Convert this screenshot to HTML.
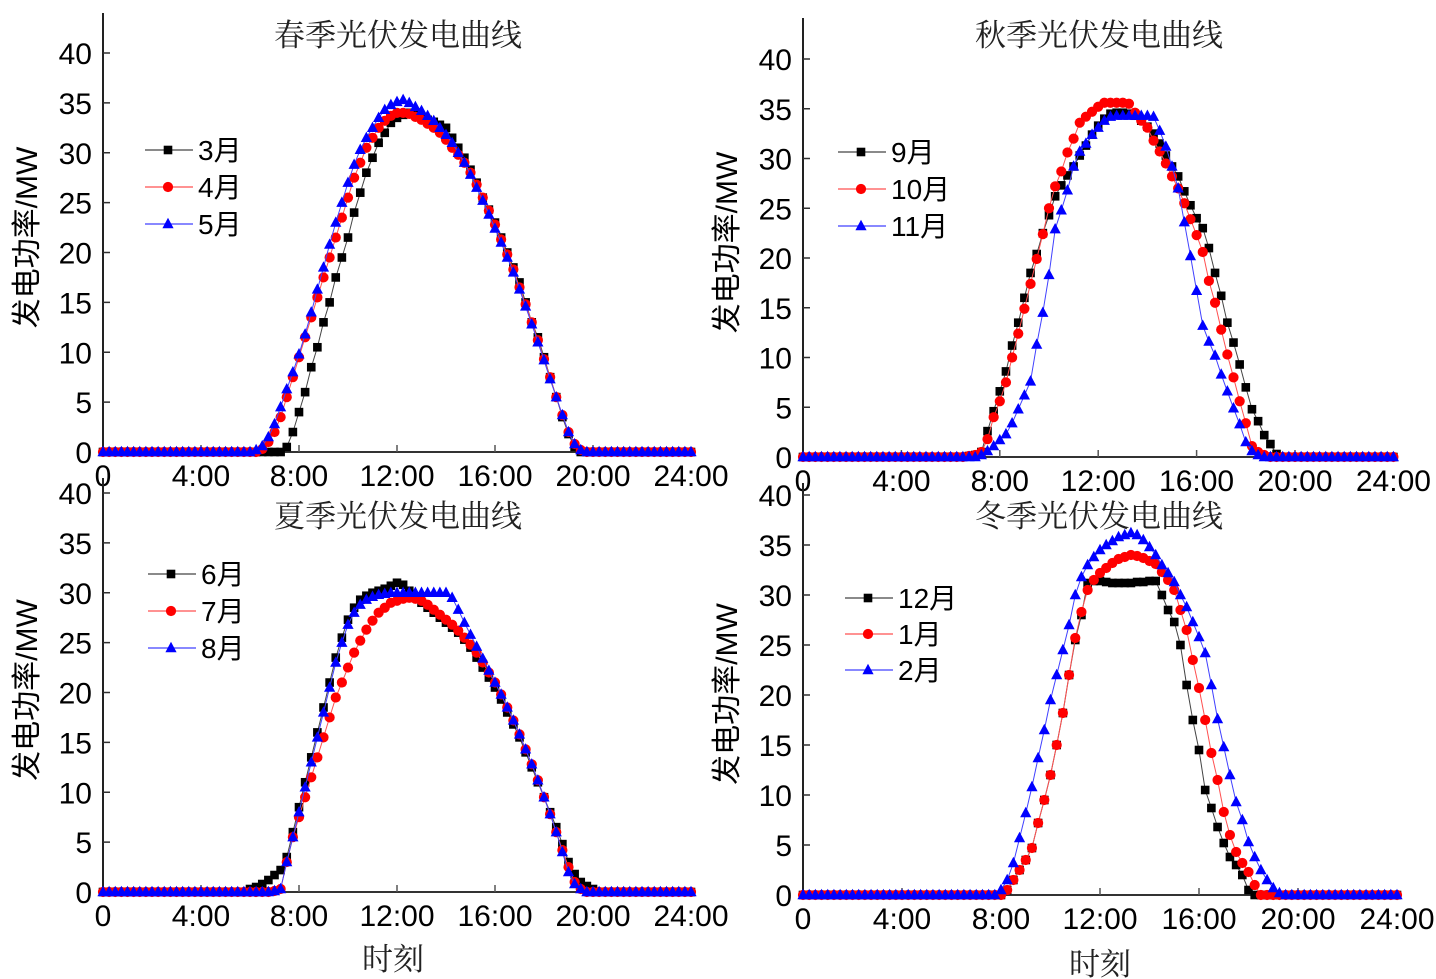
<!DOCTYPE html>
<html><head><meta charset="utf-8"><title>四季光伏发电曲线</title>
<style>
html,body{margin:0;padding:0;background:#fff;}
svg{display:block;}
.tick{font-family:"Liberation Sans","Noto Sans CJK SC",sans-serif;font-size:30px;fill:#000;}
.ttl{font-family:"Liberation Serif","Noto Serif CJK SC",serif;font-size:31px;fill:#222;}
.yt{font-family:"Liberation Sans","Noto Sans CJK SC",sans-serif;font-size:30px;fill:#000;}
.lg{font-family:"Liberation Sans","Noto Sans CJK SC",sans-serif;font-size:28px;fill:#000;}
</style></head>
<body>
<svg id="chart" width="1436" height="979" viewBox="0 0 1436 979" xmlns="http://www.w3.org/2000/svg"></svg>
<script>
// sampling: every 15 min from 6:00 to 20:00 (57 values); zero outside
const startHour = 6;
const stepHour = 0.25;
const xTickLabels = ["0","4:00","8:00","12:00","16:00","20:00","24:00"];
const xTickHours = [0,4,8,12,16,20,24];
const yTickValues = [0,5,10,15,20,25,30,35,40];

const springTitle = "春季光伏发电曲线";
const springNames = ["3月","4月","5月"];
const spring3 = [0,0,0,0,0,0,0.5,2,4,6,8.5,10.5,13,15,17.5,19.5,21.5,24,26,28,29.5,31,32,33,33.5,33.8,34,33.8,33.6,33.3,33.1,32.8,32.5,31.5,30.5,29.5,28.3,27,25.5,24.3,23,21.5,20,18.5,17,15,13,11.5,9.5,7.5,5.5,3.5,1.8,0.5,0,0,0];
const spring4 = [0,0,0.3,1,2,3.5,5.5,7.5,9.5,11.5,13.5,15.5,17.5,19.5,21.5,23.5,25.5,27.5,29,30.5,31.5,32.5,33.2,33.7,34,34,33.9,33.6,33.3,32.9,32.5,32,31.3,30.5,29.8,29,28,26.8,25.5,24.2,22.8,21.3,19.8,18.3,16.5,14.8,13,11.2,9.3,7.5,5.5,3.7,2,0.8,0.2,0,0];
const spring5 = [0,0.2,0.6,1.5,2.8,4.5,6.3,8,9.8,11.8,14,16.3,18.5,20.8,23,25,27,28.8,30.3,31.5,32.5,33.5,34.3,34.8,35.1,35.3,35,34.6,34.2,33.7,33.2,32.5,31.8,31,30,29,27.8,26.5,25.2,23.8,22.4,21,19.5,18,16.3,14.6,12.8,11,9.2,7.3,5.5,3.7,2,0.8,0.2,0,0];

const autumnTitle = "秋季光伏发电曲线";
const autumnNames = ["9月","10月","11月"];
const autumn9 = [0,0,0,0.1,0.2,0.5,2.6,4.6,6.6,8.6,11.2,13.5,16,18.5,20.4,22.5,24.3,26.2,27.3,28.3,29.2,30.3,31.3,32.4,33.3,34,34.5,34.6,34.6,34.5,34.3,33.8,33.2,32.5,31.5,30.3,29.2,28.2,26.7,25.3,24,23,21,18.5,16.2,13.5,11.5,9.3,7,4.8,3.6,2.2,1.3,0.3,0,0,0];
const autumn10 = [0,0,0,0.1,0.2,0.5,1.8,4,5.6,7.5,10,12.4,14.9,17.4,19.9,22.4,25,27.2,28.7,30.6,32,33.6,34.2,34.7,35.2,35.6,35.6,35.6,35.6,35.5,34.6,33.8,33.1,31.8,30.7,29.5,28.2,27,25.5,23.9,22.3,20.6,17.7,15.5,12.8,10.3,8,5.6,3.4,1.1,0.5,0.2,0,0,0,0,0];
const autumn11 = [0,0,0,0,0,0.2,0.6,1.1,1.7,2.3,3.4,4.8,6.2,7.6,11.3,14.5,18.3,22.9,24.8,26.8,29.2,30.7,31.5,32.4,33.1,33.8,34.2,34.3,34.3,34.3,34.3,34.3,34.3,34.2,32.8,31.2,29.2,27,23.6,20.2,16.7,13.2,11.6,10.2,8.3,6.6,4.9,3.3,1.5,0.6,0.2,0,0,0,0,0,0];

const summerTitle = "夏季光伏发电曲线";
const summerNames = ["6月","7月","8月"];
const summer6 = [0.3,0.5,0.8,1.2,1.7,2.2,3.5,6,8.5,11,13.5,16,18.5,21,23.5,25.5,27.3,28.5,29.3,29.7,30,30.2,30.4,30.7,31,30.8,30.2,29.5,29,28.5,28,27.5,27,26.5,26,25.3,24.5,23.5,22.5,21.5,20.5,19.3,18,16.8,15.5,14,12.5,11,9.5,8,6.5,4.8,3,1.8,1,0.6,0.3];
const summer7 = [0,0,0,0,0.1,0.3,3,5.5,7.5,9.5,11.5,13.5,15.5,17.5,19.5,21,22.5,24,25.2,26.3,27.2,28,28.5,29,29.2,29.4,29.5,29.4,29.2,28.8,28.3,27.8,27.3,26.8,26.2,25.5,24.8,24,23,22,21,19.8,18.5,17.2,15.8,14.3,12.8,11.2,9.5,7.8,6,4.2,2.5,1,0.3,0,0];
const summer8 = [0,0,0,0,0.1,0.3,3,5.5,8,10.5,13,15.5,18,20.5,23,25,26.8,28,28.8,29.3,29.6,29.8,29.9,30,30,30,30,30,30,30,30,30,30,29.5,28.3,27,25.8,24.6,23.4,22.2,21,19.8,18.5,17.2,15.8,14.3,12.8,11.2,9.5,7.8,6,4,2,0.8,0.3,0,0];

const winterTitle = "冬季光伏发电曲线";
const winterNames = ["12月","1月","2月"];
const winter12 = [0,0,0,0,0,0,0,0,0,0.5,1.5,2.5,3.5,4.7,7.2,9.5,12,15,18.2,22,25.5,28,31.2,31.4,31.4,31.3,31.2,31.2,31.2,31.2,31.3,31.3,31.4,31.4,30,28.5,27.3,25,21,17.5,14.5,10.5,8.7,6.8,5.2,3.8,3,2,0.5,0,0,0,0,0,0,0,0];
const winter1 = [0,0,0,0,0,0,0,0,0,0.5,1.5,2.5,3.5,4.7,7.2,9.5,12,15,18.2,22,25.7,28.3,30.5,31.5,32.2,32.7,33.2,33.6,33.8,34,33.9,33.7,33.4,33.1,32.3,31.5,30.5,28.5,26.5,23.5,20.7,17.5,14.2,11.5,8.3,6,4.3,3.2,2.3,1,0,0,0,0,0,0,0];
const winter2 = [0,0,0,0,0,0,0,0,0.5,1.5,3.2,5.7,8.2,10.8,13.7,16.5,19.5,22,24.5,27,30,31.8,33,33.8,34.5,35,35.4,35.8,36,36.2,36,35.5,34.8,34,33,32.2,31.3,30,28.8,27.3,25.8,24.2,21,17.6,14.8,12,9.3,7.5,5.3,3.8,2.5,1.5,0.7,0.2,0,0,0];

const NS = "http://www.w3.org/2000/svg";
const svg = document.getElementById("chart");
function mk(tag, attrs, parent){
  const e = document.createElementNS(NS, tag);
  for (const k in attrs) e.setAttribute(k, attrs[k]);
  (parent || svg).appendChild(e);
  return e;
}
const colors = ["#000000","#ff0000","#0000ff"];
const lineColors = ["#444444","#ff5050","#4040ff"];
const shapes = ["square","circle","triangle"];

function marker(g, shape, cx, cy, color, name){
  let m;
  if (shape === "square") m = mk("rect", {x:cx-4.3, y:cy-4.3, width:8.6, height:8.6, fill:color}, g);
  else if (shape === "circle") m = mk("circle", {cx:cx, cy:cy, r:5.1, fill:color}, g);
  else m = mk("polygon", {points:(cx)+","+(cy-6.2)+" "+(cx-5.6)+","+(cy+4.2)+" "+(cx+5.6)+","+(cy+4.2), fill:color}, g);
  
  
  return m;
}

function panel(cfg){
  const g = mk("g", {});
  
  
  const xs = h => cfg.x0 + h * cfg.pxh;
  const ys = v => cfg.y0 - v * cfg.pxv;
  const xEnd = xs(24);
  const t = mk("text", {x:cfg.titleX, y:cfg.titleY, "text-anchor":"middle", class:"ttl"}, g);
  t.textContent = cfg.title;
  
  
  const ya = mk("line", {x1:cfg.x0, y1:cfg.axisTop, x2:cfg.x0, y2:cfg.y0+1, stroke:"#222", "stroke-width":2}, g);
  
  
  const xa = mk("line", {x1:cfg.x0-1, y1:cfg.y0, x2:xEnd, y2:cfg.y0, stroke:"#333", "stroke-width":2}, g);
  
  
  yTickValues.forEach(v => {
    const y = ys(v);
    if (v > 0) mk("line", {x1:cfg.x0, y1:y, x2:cfg.x0+7, y2:y, stroke:"#333", "stroke-width":1.5}, g);
    const lb = mk("text", {x:cfg.x0-11, y:y+11, "text-anchor":"end", class:"tick"}, g);
    lb.textContent = String(v);
    
    
  });
  xTickHours.forEach((h, i) => {
    const x = xs(h);
    if (i > 0 && i < xTickHours.length-1) mk("line", {x1:x, y1:cfg.y0, x2:x, y2:cfg.y0-7, stroke:"#555", "stroke-width":1.5}, g);
    const lb = mk("text", {x:x, y:cfg.y0+34, "text-anchor":"middle", class:"tick"}, g);
    lb.textContent = xTickLabels[i];
    
    
  });
  const yt = mk("text", {x:0, y:0, "text-anchor":"middle", class:"yt", transform:"translate("+(cfg.x0-66)+","+((cfg.y0+cfg.axisTop)/2+5)+") rotate(-90)"}, g);
  yt.textContent = "发电功率/MW";
  
  
  cfg.series.forEach((vals, si) => {
    const sg = mk("g", {}, g);
    
    
    const pts = [];
    for (let k = 0; k <= 96; k++) {
      const h = k * stepHour;
      const idx = Math.round((h - startHour) / stepHour);
      const v = (idx >= 0 && idx < vals.length) ? vals[idx] : 0;
      pts.push([xs(h), ys(v)]);
    }
    const pl = mk("polyline", {points:pts.map(p => p[0].toFixed(1)+","+p[1].toFixed(1)).join(" "), fill:"none", stroke:lineColors[si], "stroke-width":1}, sg);
    
    
    pts.forEach(p => marker(sg, shapes[si], p[0], p[1], colors[si], 'data-point'));
  });
  const lgG = mk("g", {}, g);
  
  
  cfg.names.forEach((nm, si) => {
    const y = cfg.legY + si * cfg.legDy;
    const eg = mk("g", {}, lgG);
    
    
    mk("line", {x1:cfg.legX, y1:y, x2:cfg.legX+48, y2:y, stroke:lineColors[si], "stroke-width":1.3}, eg);
    marker(eg, shapes[si], cfg.legX+23, y, colors[si], 'legend-marker');
    const tx = mk("text", {x:cfg.legX+53, y:y+10, class:"lg"}, eg);
    tx.textContent = nm;
    
    
  });
}

panel({id:"spring", title:springTitle, names:springNames, series:[spring3,spring4,spring5],
  x0:103, pxh:24.5, y0:452, pxv:9.975, axisTop:13, titleX:398, titleY:46, legX:145, legY:150, legDy:37});
panel({id:"autumn", title:autumnTitle, names:autumnNames, series:[autumn9,autumn10,autumn11],
  x0:803, pxh:24.6, y0:457, pxv:9.95, axisTop:18, titleX:1099, titleY:46, legX:838, legY:152, legDy:37});
panel({id:"summer", title:summerTitle, names:summerNames, series:[summer6,summer7,summer8],
  x0:103, pxh:24.5, y0:892, pxv:9.975, axisTop:478, titleX:398, titleY:527, legX:148, legY:574, legDy:37});
panel({id:"winter", title:winterTitle, names:winterNames, series:[winter12,winter1,winter2],
  x0:803, pxh:24.75, y0:895, pxv:10, axisTop:483, titleX:1099, titleY:527, legX:845, legY:598, legDy:36});

const xl1 = mk("text", {x:393, y:970, "text-anchor":"middle", class:"ttl"});
xl1.textContent = "时刻";


const xl2 = mk("text", {x:1100, y:975, "text-anchor":"middle", class:"ttl"});
xl2.textContent = "时刻";


</script>
</body></html>
